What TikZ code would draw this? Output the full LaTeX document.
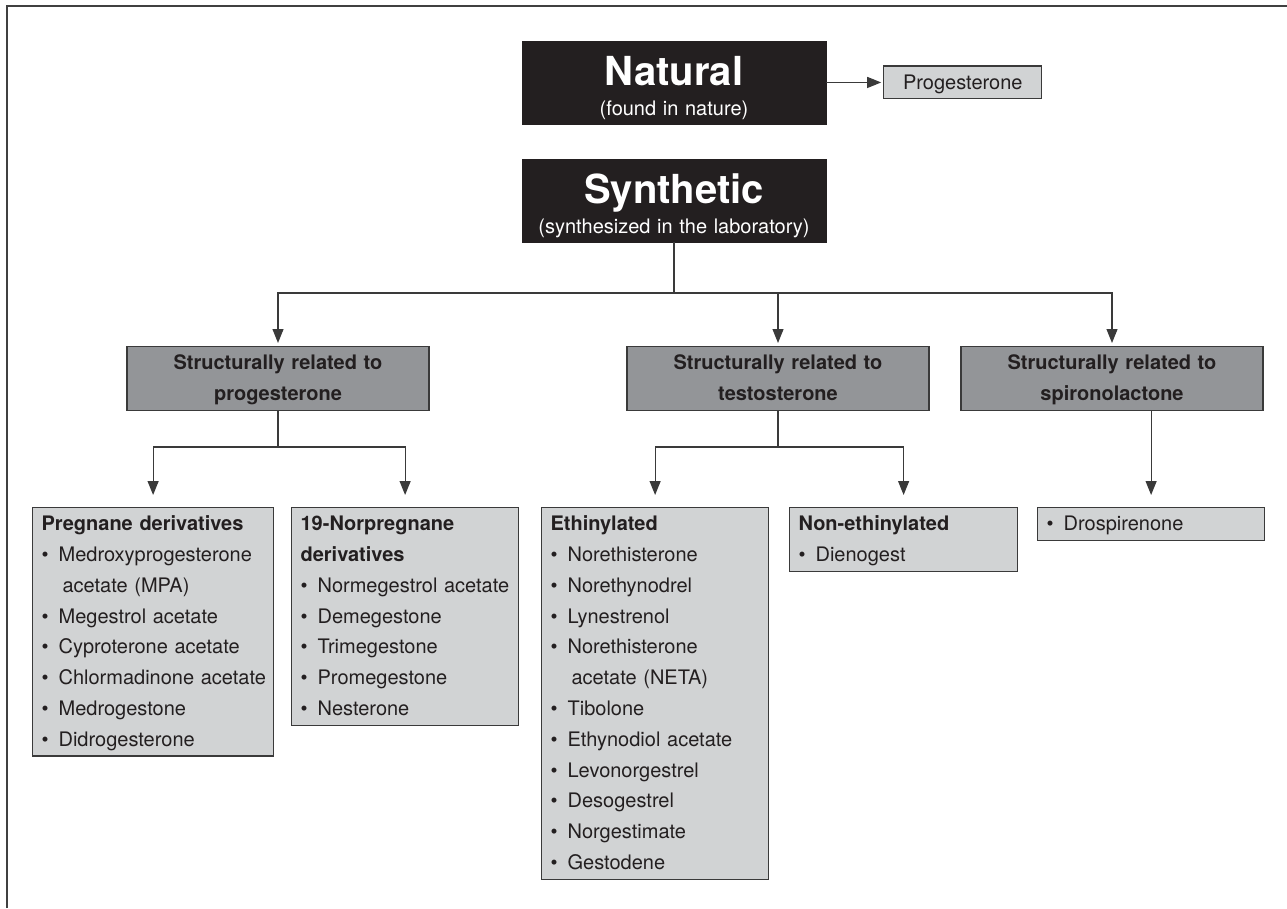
\documentclass[tikz,border=0pt]{standalone}
\usepackage{fontspec}
\setmainfont{TeX Gyre Heros}
\usetikzlibrary{arrows.meta,positioning}
\definecolor{inkdark}{HTML}{231F20}
\definecolor{midgray}{HTML}{939598}
\definecolor{paleg}{HTML}{D1D3D4}
\definecolor{edgegray}{HTML}{3A3A3A}
\newcommand{\tight}{\baselineskip=0pt\lineskip=0pt\lineskiplimit=0pt\relax}
\newcommand{\listfont}{\fontsize{20}{24}\selectfont}
\newcommand{\titlefont}{\fontsize{40}{48}\selectfont\bfseries}
\newcommand{\ls}{\rule[-8.8pt]{0pt}{30.8pt}}
\newcommand{\hd}[1]{\mbox{\ls\bfseries #1}}
\newcommand{\itm}[1]{\mbox{\ls\makebox[17pt][l]{\textbullet}#1}}
\newcommand{\cont}[1]{\mbox{\ls\hspace*{21pt}#1}}
\tikzset{
	blackbox/.style={fill=inkdark, draw=inkdark, text=white, text width=304pt,
			inner sep=0pt, align=center, font=\listfont, execute at begin node=\tight},
	midbox/.style={fill=midgray, draw=edgegray, line width=1.2pt, text=inkdark,
			text width=284pt, inner xsep=9pt, inner ysep=1pt, align=center,
			font=\listfont\bfseries, anchor=north, execute at begin node=\tight},
	palebox/.style={fill=paleg, draw=edgegray, line width=1.2pt, text=inkdark,
			inner xsep=9pt, inner ysep=1pt, font=\listfont, execute at begin node=\tight},
	listbox/.style={palebox, align=left, anchor=north west},
	link/.style={draw=edgegray, line width=1.2pt},
	arrow/.style={link, -{Triangle[length=14pt,width=11pt]}}
}
\begin{document}
\begin{tikzpicture}[x=1pt,y=1pt]
	\useasboundingbox (0,0) rectangle (1287,-908);
	\draw[line width=1.7pt, black!75] (7,-908) -- (7,-6) -- (1287,-6);

	% top level
	\node[blackbox, anchor=north] (natural) at (674,-41)
		{{\titlefont\rule{0pt}{44pt}\smash{Natural}}\\ \rule[-8.5pt]{0pt}{38.5pt}(found in nature)};
	\node[palebox, text width=140pt, align=center, right=57pt of natural] (progest) {\ls Progesterone};
	\node[blackbox, anchor=north] (synthetic) at (674,-159)
		{{\titlefont\rule{0pt}{44pt}\smash{Synthetic}}\\ \rule[-8.5pt]{0pt}{38.5pt}(synthesized in the laboratory)};

	% second level
	\node[midbox] (relprog) at (278,-346) {\ls Structurally related to\\ \ls progesterone};
	\node[midbox] (reltest) at (778,-346) {\ls Structurally related to\\ \ls testosterone};
	\node[midbox] (relspiro) at (1112,-346) {\ls Structurally related to\\ \ls spironolactone};

	% lists
	\node[listbox, text width=223pt] (pregnane) at (32,-507)
		{\hd{Pregnane derivatives}\\ \itm{Medroxyprogesterone}\\ \cont{acetate (MPA)}\\
		\itm{Megestrol acetate}\\ \itm{Cyproterone acetate}\\ \itm{Chlormadinone acetate}\\
		\itm{Medrogestone}\\ \itm{Didrogesterone}};
	\node[listbox, text width=209pt] (norpreg) at (291,-507)
		{\hd{19-Norpregnane}\\ \hd{derivatives}\\ \itm{Normegestrol acetate}\\
		\itm{Demegestone}\\ \itm{Trimegestone}\\ \itm{Promegestone}\\ \itm{Nesterone}};
	\node[listbox, text width=209pt] (ethin) at (541,-507)
		{\hd{Ethinylated}\\ \itm{Norethisterone}\\ \itm{Norethynodrel}\\ \itm{Lynestrenol}\\
		\itm{Norethisterone}\\ \cont{acetate (NETA)}\\ \itm{Tibolone}\\ \itm{Ethynodiol acetate}\\
		\itm{Levonorgestrel}\\ \itm{Desogestrel}\\ \itm{Norgestimate}\\ \itm{Gestodene}};
	\node[listbox, text width=210pt] (nonethin) at (789,-507) {\hd{Non-ethinylated}\\ \itm{Dienogest}};
	\node[listbox, text width=209pt] (drospi) at (1037,-507) {\itm{Drospirenone}};

	% connectors
	\draw[arrow, shorten >=2pt] (natural) -- (progest);
	\coordinate (split) at (674,-293);
	\draw[link] (synthetic.south) -- (split);
	\foreach \b in {relprog,reltest,relspiro}
		\draw[arrow, shorten >=3pt] (split) -| (\b.north);
	\coordinate (pj) at (278,-447);
	\coordinate (tj) at (778,-447);
	\draw[link] (relprog.south) -- (pj);
	\draw[link] (reltest.south) -- (tj);
	\foreach \b in {pregnane,norpreg}
		\draw[arrow, shorten >=12pt] (pj) -| (\b.north);
	\foreach \b in {ethin,nonethin}
		\draw[arrow, shorten >=12pt] (tj) -| (\b.north);
	\draw[arrow, shorten >=12pt] (relspiro.south -| drospi.north) -- (drospi.north);
\end{tikzpicture}
\end{document}
